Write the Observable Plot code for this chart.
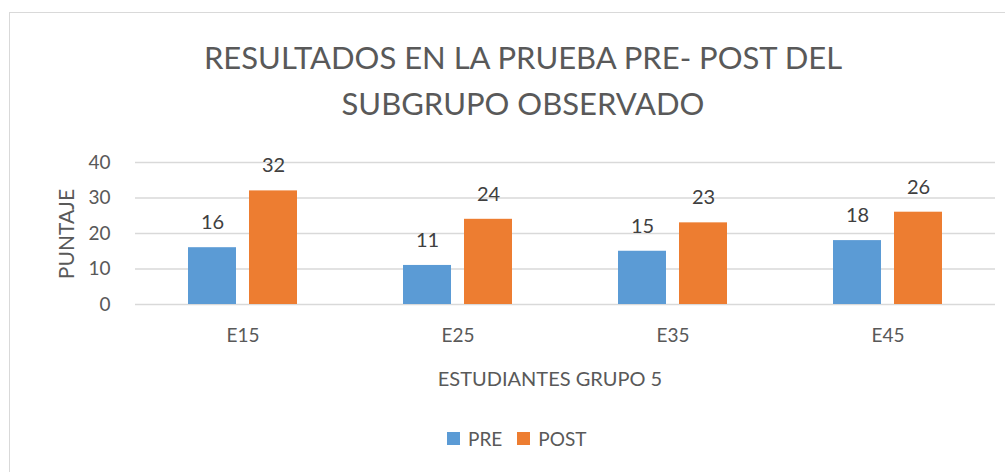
<!DOCTYPE html>
<html><head><meta charset="utf-8">
<script src="https://cdn.jsdelivr.net/npm/d3@7"></script>
<script src="https://cdn.jsdelivr.net/npm/@observablehq/plot@0.6"></script>
<style>
body{margin:0;background:#fff;font-family:Lato,"Open Sans",sans-serif;}
#wrap{position:relative;width:1005px;height:472px;overflow:hidden;}
#frame{position:absolute;left:9px;top:12px;width:1010px;height:480px;border:1px solid #d9d9d9;box-sizing:border-box;}
.t{position:absolute;color:#595959;white-space:nowrap;}
#title{left:0;width:1046px;top:34px;text-align:center;font-size:31px;line-height:46px;font-weight:400;}
#ylab{left:65px;top:234px;font-size:21px;transform:translate(-50%,-50%) rotate(-90deg);}
#xlab{left:550px;top:378px;font-size:20px;transform:translate(-50%,-50%);}
#legend{left:447px;top:427px;font-size:19px;display:flex;align-items:center;}
.sw{display:inline-block;width:13px;height:13px;margin-right:8px;}
#plot{position:absolute;left:0;top:0;}
</style></head>
<body>
<div id="wrap">
<div id="frame"></div>
<div id="plot"></div>
<div class="t" id="title">RESULTADOS EN LA PRUEBA PRE- POST DEL<br>SUBGRUPO OBSERVADO</div>
<div class="t" id="ylab">PUNTAJE</div>
<div class="t" id="xlab">ESTUDIANTES GRUPO 5</div>
<div class="t" id="legend"><span class="sw" style="background:#5b9bd5"></span><span style="margin-right:15px">PRE</span><span class="sw" style="background:#ed7d31"></span><span>POST</span></div>
</div>
<script>
const students = ["E15","E25","E35","E45"];
const series = ["PRE","POST"];
const pre = [16,11,15,18];
const post = [32,24,23,26];
const yTicks = [0,10,20,30,40];
const colors = ["#5b9bd5","#ed7d31"];

const data = [];
students.forEach((s,i)=>{
  data.push({student:s, serie:"PRE", value:pre[i]});
  data.push({student:s, serie:"POST", value:post[i]});
});

const chart = Plot.plot({
  width:1005, height:472,
  marginLeft:135, marginRight:10, marginTop:162, marginBottom:168,
  style:{background:"transparent", fontFamily:"Lato, 'Open Sans', sans-serif", fontSize:"19px", color:"#595959"},
  fx:{domain:students, padding:0, label:null, tickSize:0, tickPadding:24},
  x:{domain:series, paddingInner:0.21, paddingOuter:0.865, axis:null},
  y:{domain:[0,40], ticks:yTicks, tickSize:0, tickPadding:25, label:null},
  color:{domain:series, range:colors},
  marks:[
    Plot.ruleY(yTicks,{stroke:"#d9d9d9", strokeWidth:1.4}),
    Plot.barY(data,{fx:"student", x:"serie", y:"value", fill:"serie"}),
    Plot.text(data,{fx:"student", x:"serie", y:"value", text:d=>String(d.value), dy:-25, fill:"#404040", fontSize:20})
  ]
});
document.getElementById("plot").appendChild(chart);
</script>
</body></html>
